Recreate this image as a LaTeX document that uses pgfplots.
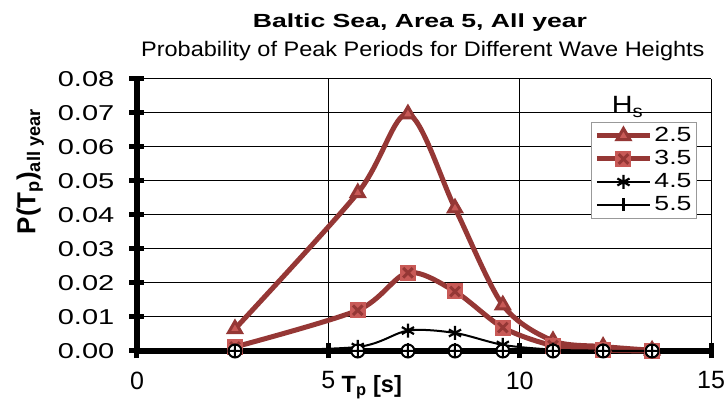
\documentclass[border=0pt]{standalone}
\usepackage{fontspec}
\setmainfont{Liberation Sans}
\newfontfamily\ftitle[FakeStretch=1.4]{Liberation Sans}
\newfontfamily\fsub[FakeStretch=1.12]{Liberation Sans}
\newfontfamily\fytick[FakeStretch=1.35]{Liberation Sans}
\newfontfamily\fleg[FakeStretch=1.3]{Liberation Sans}
\newfontfamily\fhs[FakeStretch=1.15]{Liberation Sans}
\usepackage{pgfplots}
\pgfplotsset{compat=1.18}
\definecolor{cline}{HTML}{953735}
\definecolor{cfill}{HTML}{C85A57}
\pgfdeclareplotmark{sqx}{%
  \pgfpathrectangle{\pgfpoint{-\pgfplotmarksize}{-\pgfplotmarksize}}{\pgfpoint{2\pgfplotmarksize}{2\pgfplotmarksize}}%
  \pgfusepath{fill}%
  \pgfsetstrokecolor{cline}%
  \pgfpathmoveto{\pgfpoint{-0.6\pgfplotmarksize}{-0.6\pgfplotmarksize}}%
  \pgfpathlineto{\pgfpoint{0.6\pgfplotmarksize}{0.6\pgfplotmarksize}}%
  \pgfpathmoveto{\pgfpoint{-0.6\pgfplotmarksize}{0.6\pgfplotmarksize}}%
  \pgfpathlineto{\pgfpoint{0.6\pgfplotmarksize}{-0.6\pgfplotmarksize}}%
  \pgfusepath{stroke}%
}
\begin{document}
\begin{tikzpicture}
\begin{axis}[
  scale only axis, width=574pt, height=272pt,
  xmin=0, xmax=15, ymin=0, ymax=0.08,
  clip=false,
  axis lines=left,
  axis line style={-, line width=6pt, black},
  scaled y ticks=false, scaled x ticks=false,
  xtick={0,5,10,15}, xticklabels={0,5,10,15},
  ytick={0,0.01,0.02,0.03,0.04,0.05,0.06,0.07,0.08},
  yticklabels={0.00,0.01,0.02,0.03,0.04,0.05,0.06,0.07,0.08},
  grid=major, grid style={black, line width=1pt},
  tick align=center, major tick length=15pt,
  tick style={black, line width=5pt},
  xticklabel style={font=\fontsize{25}{30}\selectfont, anchor=north, inner sep=0pt, yshift=-13pt},
  yticklabel style={font=\fontsize{21.5}{24}\fytick, anchor=east, inner sep=0pt, xshift=-15pt},
  xlabel={\bfseries T\textsubscript{p} [s]},
  xlabel style={font=\fontsize{23.5}{28}\selectfont, at={(axis description cs:0.409,-0.151)}, anchor=base, inner sep=0pt},
  ylabel={\bfseries P(T\textsubscript{p})\textsubscript{all year}},
  ylabel style={font=\fontsize{26}{30}\selectfont, at={(axis description cs:-0.186,0.66)}, anchor=center, rotate=0, inner sep=0pt},
  legend style={at={(axis description cs:0.9756,0.842)}, anchor=north east,
    draw=gray!80, line width=1pt, fill=white, inner xsep=3pt, inner ysep=2pt,
    row sep=0pt, column sep=0pt,
    font=\fontsize{20.5}{23}\fleg,
    nodes={inner xsep=2pt, inner ysep=2pt, text height=15pt, text depth=4pt}},
  legend cell align=left,
  legend image code/.code={\draw[mark repeat=2, mark phase=2, #1] plot coordinates {(0pt,0pt) (26.5pt,0pt) (53pt,0pt)};},
]
\addplot[draw=cline, line width=5pt, smooth, mark=triangle*, mark size=7.5pt,
  mark options={solid, draw=cline, fill=cfill, line width=3pt}]
  coordinates {(2.56,0.0065) (5.77,0.0465) (7.08,0.0697) (8.31,0.0420) (9.56,0.0135) (10.87,0.0030) (12.18,0.0013) (13.46,0.0002)};
\addlegendentry{2.5}
\addplot[draw=cline, line width=5pt, smooth, mark=sqx, mark size=8pt,
  mark options={solid, fill=cfill, line width=3pt}]
  coordinates {(2.56,0.0012) (5.77,0.0120) (7.08,0.0230) (8.31,0.0175) (9.56,0.0069) (10.87,0.0016) (12.18,0.0003) (13.46,0.0000)};
\addlegendentry{3.5}
\addplot[draw=black, line width=2pt, smooth, mark=asterisk, mark size=7pt,
  mark options={solid, line width=2.2pt}]
  coordinates {(2.56,0.0000) (5.77,0.0012) (7.08,0.0060) (8.31,0.0053) (9.56,0.0018) (10.87,0.0004) (12.18,0.0001) (13.46,0.0000)};
\addlegendentry{4.5}
\addplot[draw=black, line width=2pt, smooth, mark=+, mark size=6.5pt,
  mark options={solid, line width=2.5pt}]
  coordinates {(2.56,0.0000) (5.77,0.0003) (7.08,0.0005) (8.31,0.0004) (9.56,0.0002) (10.87,0.0001) (12.18,0.0000) (13.46,0.0000)};
\addlegendentry{5.5}
\addplot[forget plot, only marks, mark=oplus*, mark size=6.5pt,
  mark options={solid, draw=black, fill=white, line width=2pt}]
  coordinates {(2.56,0) (5.77,0) (7.08,0) (8.31,0) (9.56,0) (10.87,0) (12.18,0) (13.46,0)};
\node[anchor=base, inner sep=0pt, font=\fontsize{19}{22}\ftitle\bfseries] at (axis description cs:0.493,1.1875) {Baltic Sea, Area 5, All year};
\node[anchor=base, inner sep=0pt, font=\fontsize{21}{24}\fsub] at (axis description cs:0.498,1.081) {Probability of Peak Periods for Different Wave Heights};
\node[anchor=base west, inner sep=0pt, font=\fontsize{25}{30}\fhs] at (axis description cs:0.827,0.874) {H\textsubscript{s}};
\end{axis}
\pgfresetboundingbox
\path (-137pt,-52pt) rectangle (590pt,351pt);
\end{tikzpicture}
\end{document}
